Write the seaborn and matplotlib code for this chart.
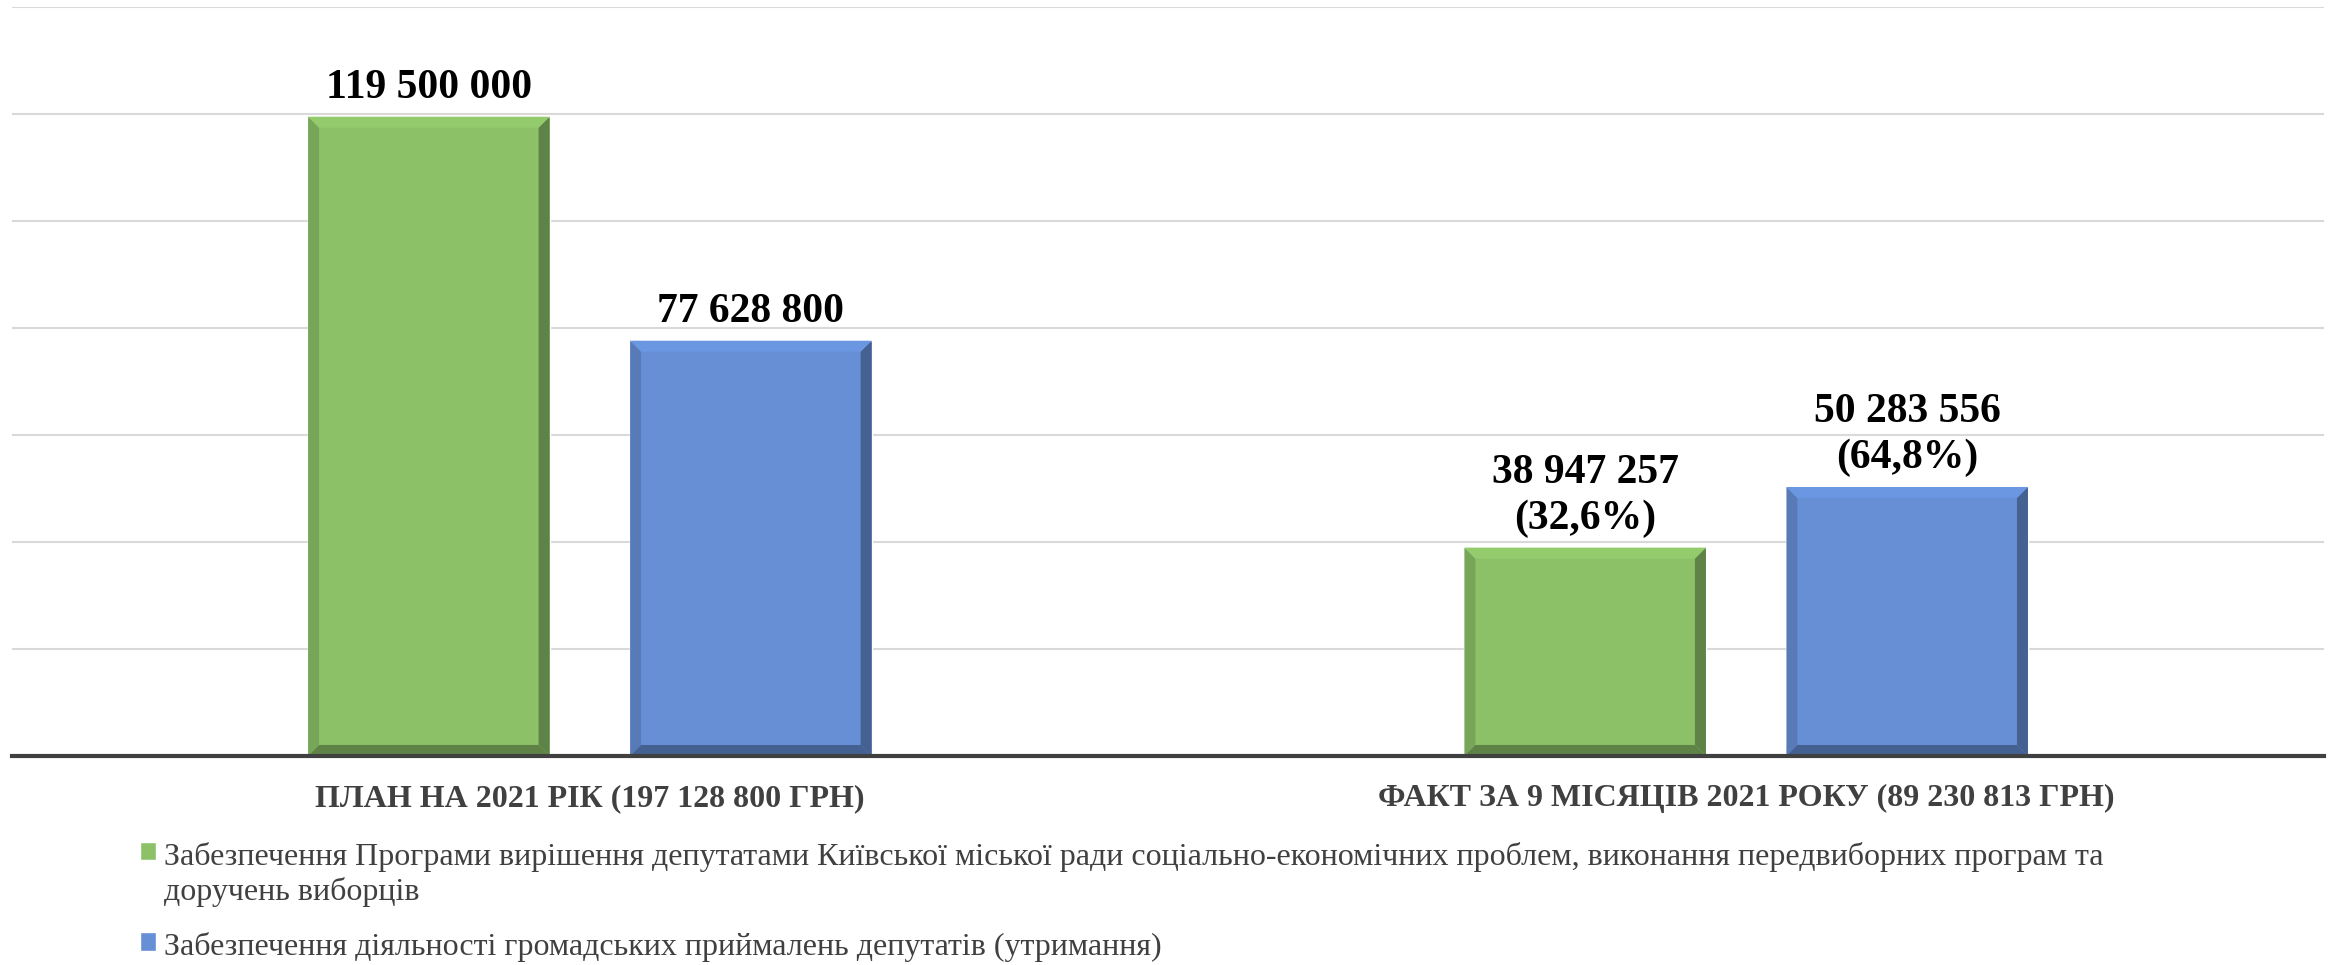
import pandas as pd
import numpy as np
import matplotlib.pyplot as plt
import matplotlib.colors as mcolors
from matplotlib.patches import Polygon
import seaborn as sns

# data
categories = ['ПЛАН НА 2021 РІК (197 128 800 ГРН)',
              'ФАКТ ЗА 9 МІСЯЦІВ 2021 РОКУ (89 230 813 ГРН)']
series = ['Забезпечення Програми вирішення депутатами Київської міської ради соціально-економічних проблем, виконання передвиборних програм та доручень виборців',
          'Забезпечення діяльності громадських приймалень депутатів (утримання)']
legend_labels = ['Забезпечення Програми вирішення депутатами Київської міської ради соціально-економічних проблем, виконання передвиборних програм та\nдоручень виборців',
                 'Забезпечення діяльності громадських приймалень депутатів (утримання)']
program_values = [119500000, 38947257]
office_values = [77628800, 50283556]
program_pct = [None, '32,6%']
office_pct = [None, '64,8%']
colors = ['#8cc168', '#668fd6']

df = pd.DataFrame({
    'category': categories * 2,
    'series': [series[0]] * 2 + [series[1]] * 2,
    'value': program_values + office_values,
    'pct': program_pct + office_pct,
})

sns.set_theme(style='whitegrid')
plt.rcParams['font.family'] = ['Liberation Serif', 'DejaVu Serif']

fig = plt.figure(figsize=(23.36, 9.65), dpi=100)
ax = fig.add_axes([0.005, 0.2166, 0.99, 0.7761])

sns.barplot(data=df, x='category', y='value', hue='series', hue_order=series,
            palette=colors, width=0.557, gap=0.25, saturation=1, ax=ax)

ax.set_ylim(0, 140000000)
ax.set_yticks(np.arange(0, 140000001, 20000000))
ax.set_xlim(-0.5, 1.5)
ax.tick_params(axis='y', left=False, labelleft=False)
ax.tick_params(axis='x', bottom=False, pad=14)
ax.set_xlabel('')
ax.set_ylabel('')
ax.grid(axis='y', color='#d9d9d9', linewidth=1.5)
ax.grid(axis='x', visible=False)
for s in ['top', 'left', 'right']:
    ax.spines[s].set_visible(False)
ax.spines['bottom'].set_color('#404040')
ax.spines['bottom'].set_linewidth(3)
ax.spines['bottom'].set_zorder(5)
for lbl in ax.get_xticklabels():
    lbl.set_fontsize(23)
    lbl.set_fontweight('bold')
    lbl.set_color('#404040')

# value labels
for cont, vals, pcts in zip(ax.containers, [program_values, office_values], [program_pct, office_pct]):
    labels = []
    for v, p in zip(vals, pcts):
        txt = f'{v:,}'.replace(',', ' ')
        if p:
            txt += f'\n({p})'
        labels.append(txt)
    ax.bar_label(cont, labels=labels, padding=7, fontsize=30, fontweight='bold',
                 color='black', linespacing=1.25)

# excel-like bevel on bars
ax_w = ax.get_window_extent().width
ax_h = ax.get_window_extent().height
dx = 11 * 2.0 / ax_w
dy = 11 * 140000000 / ax_h
for cont in ax.containers:
    for p in cont.patches:
        x0, y0 = p.get_x(), p.get_y()
        x1, y1 = x0 + p.get_width(), y0 + p.get_height()
        base = np.array(mcolors.to_rgb(p.get_facecolor()))
        shades = {'left': base * 0.86, 'right': base * 0.68, 'bottom': base * 0.68,
                  'top': np.minimum(base * 1.05, 1)}
        polys = {
            'left': [(x0, y0), (x0 + dx, y0 + dy), (x0 + dx, y1 - dy), (x0, y1)],
            'right': [(x1, y0), (x1 - dx, y0 + dy), (x1 - dx, y1 - dy), (x1, y1)],
            'bottom': [(x0, y0), (x1, y0), (x1 - dx, y0 + dy), (x0 + dx, y0 + dy)],
            'top': [(x0, y1), (x1, y1), (x1 - dx, y1 - dy), (x0 + dx, y1 - dy)],
        }
        for k, pts in polys.items():
            ax.add_patch(Polygon(pts, closed=True, facecolor=shades[k], edgecolor='none', zorder=3))

handles, _ = ax.get_legend_handles_labels()
ax.get_legend().remove()
leg = fig.legend(handles, legend_labels, loc='upper left', bbox_to_anchor=(0.0545, 0.1405),
                 frameon=False, fontsize=23, handlelength=0.5, handleheight=0.5,
                 handletextpad=0.25, labelspacing=0.8, borderaxespad=0, labelcolor='#404040')
# put the square next to the first line of each label
for col in leg._legend_handle_box.get_children():
    for item in col.get_children():
        item.align = 'top'

plt.savefig('out.png', dpi=100)
